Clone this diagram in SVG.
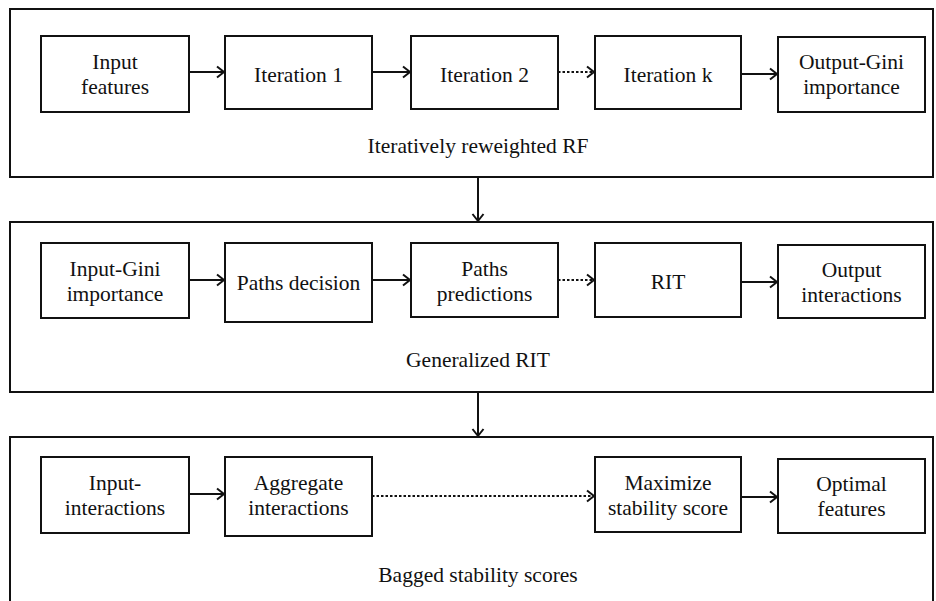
<svg xmlns="http://www.w3.org/2000/svg" width="936" height="601" viewBox="0 0 936 601">
<style>
.frame{fill:#fff;stroke:#111;stroke-width:2}
.box{fill:#fff;stroke:#111;stroke-width:2}
text{font-family:'Liberation Serif','DejaVu Serif',serif;font-size:21.5px;fill:#111;text-anchor:middle}
.c{fill:none;stroke:#111;stroke-width:2}
.d{stroke-dasharray:2.5 2}
</style>
<defs>
<marker id="ah" markerUnits="userSpaceOnUse" markerWidth="12" markerHeight="14" refX="9" refY="7" orient="auto">
<path d="M2,1.5 L9,7 L2,12.5" fill="none" stroke="#111" stroke-width="2"/>
</marker>
</defs>
<rect width="936" height="601" fill="#fff"/>
<g id="stage1">
<rect class="frame" x="10" y="9" width="923" height="168"/>
<text x="478" y="153">Iteratively reweighted RF</text>
</g>
<g id="stage2">
<rect class="frame" x="10" y="222" width="923" height="170"/>
<text x="478" y="367">Generalized RIT</text>
</g>
<g id="stage3">
<rect class="frame" x="10" y="437" width="923" height="180"/>
<text x="478" y="582">Bagged stability scores</text>
</g>
<g id="n-input-features"><rect class="box" x="41" y="36" width="148" height="76"/><text x="115" y="69">Input</text><text x="115" y="94">features</text></g>
<g id="n-iter1"><rect class="box" x="225" y="36" width="147" height="73"/><text x="298.5" y="82">Iteration 1</text></g>
<g id="n-iter2"><rect class="box" x="411" y="36" width="147" height="73"/><text x="484.5" y="82">Iteration 2</text></g>
<g id="n-iterk"><rect class="box" x="595" y="36" width="146" height="73"/><text x="668" y="82">Iteration k</text></g>
<g id="n-output-gini"><rect class="box" x="778" y="37" width="147" height="75"/><text x="851.5" y="69">Output-Gini</text><text x="851.5" y="94">importance</text></g>
<g id="n-input-gini"><rect class="box" x="41" y="243" width="148" height="75"/><text x="115" y="276">Input-Gini</text><text x="115" y="301">importance</text></g>
<g id="n-paths-decision"><rect class="box" x="225" y="243" width="147" height="79"/><text x="298.5" y="290">Paths decision</text></g>
<g id="n-paths-predictions"><rect class="box" x="411" y="243" width="147" height="74"/><text x="484.5" y="276">Paths</text><text x="484.5" y="301">predictions</text></g>
<g id="n-rit"><rect class="box" x="595" y="243" width="146" height="74"/><text x="668" y="289">RIT</text></g>
<g id="n-output-interactions"><rect class="box" x="778" y="245" width="147" height="73"/><text x="851.5" y="277">Output</text><text x="851.5" y="302">interactions</text></g>
<g id="n-input-interactions"><rect class="box" x="41" y="457" width="148" height="76"/><text x="115" y="490">Input-</text><text x="115" y="515">interactions</text></g>
<g id="n-aggregate"><rect class="box" x="225" y="457" width="147" height="79"/><text x="298.5" y="490">Aggregate</text><text x="298.5" y="515">interactions</text></g>
<g id="n-maximize"><rect class="box" x="595" y="457" width="146" height="75"/><text x="668" y="490">Maximize</text><text x="668" y="515">stability score</text></g>
<g id="n-optimal"><rect class="box" x="778" y="459" width="147" height="74"/><text x="851.5" y="491">Optimal</text><text x="851.5" y="516">features</text></g>
<g id="connectors">
<line class="c" x1="189" y1="72" x2="224" y2="72" marker-end="url(#ah)"/>
<line class="c" x1="372" y1="72" x2="410" y2="72" marker-end="url(#ah)"/>
<line class="c d" x1="558" y1="72" x2="594" y2="72" marker-end="url(#ah)"/>
<line class="c" x1="741" y1="74" x2="777" y2="74" marker-end="url(#ah)"/>
<line class="c" x1="478" y1="177" x2="478" y2="221" marker-end="url(#ah)"/>
<line class="c" x1="189" y1="280" x2="224" y2="280" marker-end="url(#ah)"/>
<line class="c" x1="372" y1="280" x2="410" y2="280" marker-end="url(#ah)"/>
<line class="c d" x1="558" y1="280" x2="594" y2="280" marker-end="url(#ah)"/>
<line class="c" x1="741" y1="282" x2="777" y2="282" marker-end="url(#ah)"/>
<line class="c" x1="478" y1="392" x2="478" y2="436" marker-end="url(#ah)"/>
<line class="c" x1="189" y1="494" x2="224" y2="494" marker-end="url(#ah)"/>
<line class="c d" x1="372" y1="496" x2="594" y2="496" marker-end="url(#ah)"/>
<line class="c" x1="741" y1="497" x2="777" y2="497" marker-end="url(#ah)"/>
</g>
</svg>
